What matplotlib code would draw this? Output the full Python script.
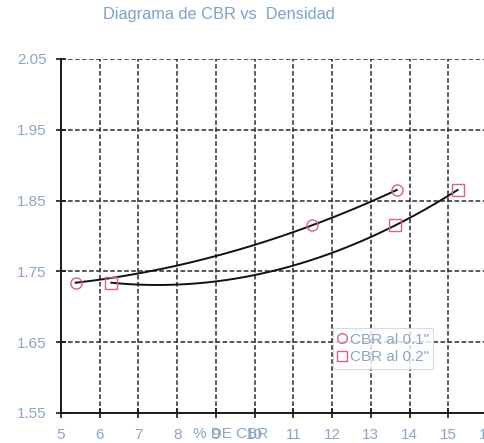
import numpy as np
import matplotlib
matplotlib.use("Agg")
import matplotlib.pyplot as plt
from matplotlib.lines import Line2D

plt.rcParams['font.family'] = ['Liberation Sans', 'DejaVu Sans']

# CBR (%) and dry density for each penetration
cbr_01 = [5.38, 11.48, 13.67]
dens_01 = [1.734, 1.815, 1.865]
cbr_02 = [6.3, 13.63, 15.24]
dens_02 = [1.734, 1.815, 1.865]

x_ticks = list(range(5, 17))
y_ticks = [1.55, 1.65, 1.75, 1.85, 1.95, 2.05]
y_tick_labels = ["1.55", "1.65", "1.75", "1.85", "1.95", "2.05"]

title = "Diagrama de CBR vs  Densidad"
x_label = "% DE CBR"
legend_labels = ['CBR al 0.1"', 'CBR al 0.2"']

label_color = "#8aa5c8"
title_color = "#7aa2ca"
marker_color = "#d8608a"

fig = plt.figure(figsize=(4.85, 4.43), dpi=100)
ax = fig.add_axes([61 / 485, 30 / 443, 426 / 485, 354 / 443])

ax.set_xlim(5, 16)
ax.set_ylim(1.55, 2.05)
ax.set_xticks(x_ticks)
ax.set_yticks(y_ticks)
ax.set_yticklabels(y_tick_labels)

ax.grid(True, color="#2a2a2a", linestyle=(0, (3, 1.6)), linewidth=1.1)
ax.set_axisbelow(True)
for side in ("top", "right"):
    ax.spines[side].set_visible(False)
for side in ("left", "bottom"):
    ax.spines[side].set_linewidth(1.4)
    ax.spines[side].set_color("#1a1a1a")

ax.tick_params(axis="both", direction="inout", length=7, width=1.2, color="#1a1a1a",
               labelcolor=label_color, labelsize=11)
ax.tick_params(axis="x", pad=7)
ax.tick_params(axis="y", pad=7)

# quadratic trend lines through each series
for xs, ys in ((cbr_01, dens_01), (cbr_02, dens_02)):
    coef = np.polyfit(xs, ys, 2)
    xx = np.linspace(min(xs), max(xs), 200)
    ax.plot(xx, np.polyval(coef, xx), color="#111111", linewidth=1.4, zorder=3)

ax.plot(cbr_01, dens_01, linestyle="none", marker="o", markersize=8,
        markerfacecolor="none", markeredgecolor=marker_color, markeredgewidth=1.0, zorder=4)
ax.plot(cbr_02, dens_02, linestyle="none", marker="s", markersize=8,
        markerfacecolor="none", markeredgecolor=marker_color, markeredgewidth=1.0, zorder=4)

handles = [
    Line2D([], [], linestyle="none", marker="o", markersize=7, markerfacecolor="none",
           markeredgecolor=marker_color, markeredgewidth=1.0),
    Line2D([], [], linestyle="none", marker="s", markersize=7, markerfacecolor="none",
           markeredgecolor=marker_color, markeredgewidth=1.0),
]
leg = ax.legend(handles, legend_labels, loc="upper left", bbox_to_anchor=(0.638, 0.24),
                frameon=True, fancybox=False, fontsize=11, handlelength=0.6,
                handletextpad=0.2, borderpad=0.3, labelspacing=0.25,
                borderaxespad=0)
leg.get_frame().set_edgecolor("#c8d4e0")
leg.get_frame().set_linewidth(0.8)
for t in leg.get_texts():
    t.set_color(label_color)

ax.set_xlabel(x_label, color=label_color, fontsize=11)
ax.xaxis.set_label_coords(0.399, -0.040)

fig.text(219 / 485, 1 - 15 / 443, title, color=title_color, fontsize=11.8,
         ha="center", va="center")

fig.savefig("out.png", dpi=100)
